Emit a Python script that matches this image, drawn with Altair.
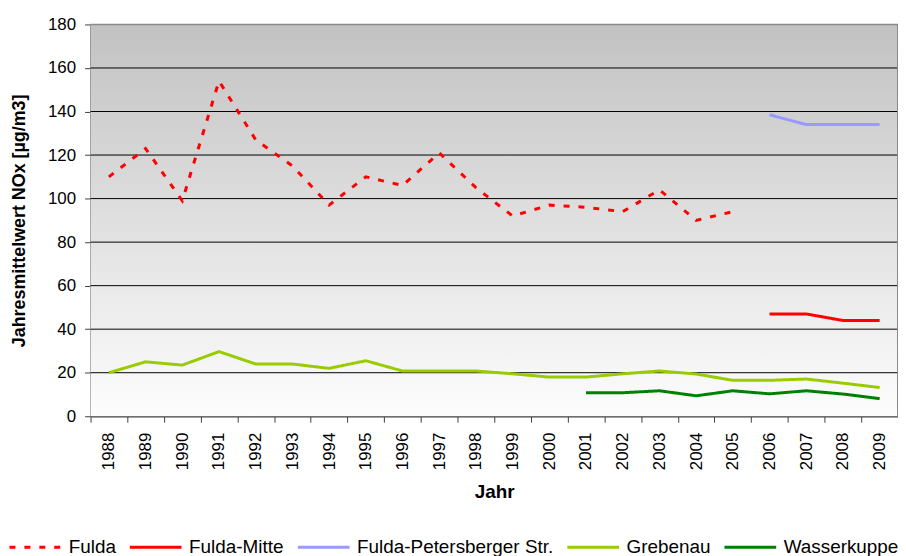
import altair as alt
import pandas as pd

years = ["1988", "1989", "1990", "1991", "1992", "1993", "1994", "1995", "1996", "1997", "1998",
         "1999", "2000", "2001", "2002", "2003", "2004", "2005", "2006", "2007", "2008", "2009"]

fulda_years = ["1988", "1989", "1990", "1991", "1992", "1993", "1994", "1995", "1996", "1997",
               "1998", "1999", "2000", "2001", "2002", "2003", "2004", "2005"]
fulda = [110, 123, 99, 154, 127, 115, 97, 110, 106, 121, 105, 92, 97, 96, 94, 104, 90, 94]

mitte_years = ["2006", "2007", "2008", "2009"]
mitte = [47, 47, 44, 44]

peters_years = ["2006", "2007", "2008", "2009"]
peters = [138.5, 134, 134, 134]

grebenau_years = years
grebenau = [20, 25, 23.5, 29.7, 24, 24, 22, 25.5, 20.8, 20.8, 20.8, 19.5, 18, 18, 19.5, 20.8,
            19.4, 16.5, 16.5, 17.1, 15.2, 13.2]

wasser_years = ["2001", "2002", "2003", "2004", "2005", "2006", "2007", "2008", "2009"]
wasser = [10.8, 10.8, 11.7, 9.4, 11.7, 10.3, 11.7, 10.2, 8.1]

series_names = ["Fulda", "Fulda-Mitte", "Fulda-Petersberger Str.", "Grebenau", "Wasserkuppe"]
series_colors = ["#ff0000", "#ff0000", "#9999ff", "#99cc00", "#008000"]
series_dashes = [[6, 9], [1, 0], [1, 0], [1, 0], [1, 0]]

grid_values = [20, 40, 60, 80, 100, 120, 140, 160]
y_ticks = [0, 20, 40, 60, 80, 100, 120, 140, 160, 180]

rows = []
for name, ys, vals in [("Fulda", fulda_years, fulda),
                       ("Fulda-Mitte", mitte_years, mitte),
                       ("Fulda-Petersberger Str.", peters_years, peters),
                       ("Grebenau", grebenau_years, grebenau),
                       ("Wasserkuppe", wasser_years, wasser)]:
    for yr, v in zip(ys, vals):
        rows.append({"Jahr": yr, "Wert": v, "Serie": name})
df = pd.DataFrame(rows)

W, H = 812, 394
FONT = "Liberation Sans"

yscale = alt.Scale(domain=[0, 180], nice=False)
y_axis = alt.Axis(title="Jahresmittelwert NOx [µg/m3]", values=y_ticks, grid=False,
                  labelFont=FONT, labelFontSize=17, labelColor="#000000",
                  labelPadding=9, tickSize=6, tickColor="#404040",
                  domainColor="#404040", domainWidth=1.5,
                  titleFont=FONT, titleFontSize=18, titleFontWeight="bold",
                  titleColor="#000000", titleX=-71, titleY=H / 2,
                  titleAngle=270, titleBaseline="middle", titleAlign="center")

bg = alt.Chart(pd.DataFrame({"a": [0]})).mark_rect(
    color=alt.Gradient(
        gradient="linear",
        stops=[alt.GradientStop(color="#c2c2c2", offset=0),
               alt.GradientStop(color="#fdfdfd", offset=1)],
        x1=0, x2=0, y1=0, y2=1),
).encode(x=alt.value(0), x2=alt.value(W), y=alt.value(0), y2=alt.value(H))

grid = alt.Chart(pd.DataFrame({"Wert": grid_values})).mark_rule(
    color="#000000", strokeWidth=1
).encode(y=alt.Y("Wert:Q", scale=yscale, axis=y_axis))

top_line = alt.Chart(pd.DataFrame({"Wert": [180]})).mark_rule(
    color="#8a8a8a", strokeWidth=1.5
).encode(y=alt.Y("Wert:Q", scale=yscale, axis=y_axis))

right_line = alt.Chart(pd.DataFrame({"a": [0]})).mark_rule(
    color="#8a8a8a", strokeWidth=2
).encode(x=alt.value(W), y=alt.value(0), y2=alt.value(H))

legend = alt.Legend(
    title=None, orient="none", legendX=-83, legendY=498, direction="horizontal",
    symbolType="stroke", symbolSize=2704, symbolStrokeWidth=3,
    labelFont=FONT, labelFontSize=19, labelColor="#000000",
    columnPadding=7, labelOffset=6, labelLimit=400, padding=0,
)

lines = alt.Chart(df).mark_line(strokeWidth=3, strokeCap="butt").encode(
    x=alt.X("Jahr:O", bandPosition=0.5,
            scale=alt.Scale(type="band", domain=years, paddingInner=0, paddingOuter=0),
            axis=alt.Axis(title="Jahr", tickBand="extent", labelAngle=270, grid=False,
                          labelFont=FONT, labelFontSize=17, labelColor="#000000",
                          labelPadding=10, tickSize=6, tickColor="#404040",
                          domainColor="#404040", domainWidth=1.5,
                          titleFont=FONT, titleFontSize=19, titleFontWeight="bold",
                          titleColor="#000000", titleY=76, titleBaseline="middle")),
    y=alt.Y("Wert:Q", scale=yscale, axis=y_axis),
    color=alt.Color("Serie:N", scale=alt.Scale(domain=series_names, range=series_colors),
                    legend=legend),
    strokeDash=alt.StrokeDash("Serie:N",
                              scale=alt.Scale(domain=series_names, range=series_dashes),
                              legend=legend),
    detail="Serie:N",
)

chart = alt.layer(bg, grid, top_line, right_line, lines).properties(
    width=W, height=H,
    autosize=alt.AutoSizeParams(type="none"),
    padding={"left": 83, "top": 15, "right": 0, "bottom": 139},
).configure_view(stroke=None)

chart.save("out.html", embed_options={"renderer": "svg", "actions": False})
